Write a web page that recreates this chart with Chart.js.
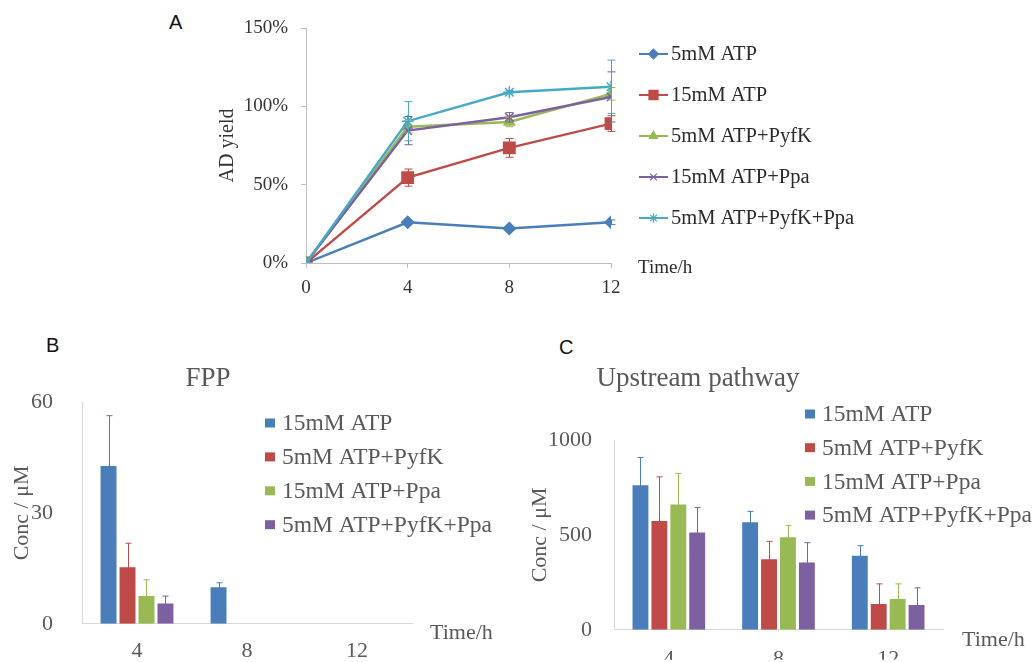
<!DOCTYPE html>
<html>
<head>
<meta charset="utf-8">
<script src="https://cdn.jsdelivr.net/npm/chart.js@4.4.0/dist/chart.umd.min.js"></script>
<style>
  html, body { margin: 0; padding: 0; background: #fff; }
  body { width: 1034px; height: 662px; position: relative; overflow: hidden; }
  .panel { position: absolute; }
  .panel canvas { display: block; }
  .tag { position: absolute; font-family: "Liberation Sans", Arial, sans-serif; font-size: 20px; color: #111; line-height: 23px; }
</style>
</head>
<body>
<div class="tag" style="left:169px;top:11px">A</div>
<div class="tag" style="left:46px;top:334px">B</div>
<div class="tag" style="left:559px;top:336px">C</div>

<div class="panel" style="left:160px;top:0px"><canvas id="chartA" width="740" height="300"></canvas></div>
<div class="panel" style="left:0px;top:330px"><canvas id="chartB" width="520" height="336"></canvas></div>
<div class="panel" style="left:520px;top:330px"><canvas id="chartC" width="514" height="335"></canvas></div>

<script>
// ---- A: AD yield over time (%) ----
var hoursA = [0, 4, 8, 12];
var atp5 = [0, 26, 22, 26];
var atp15 = [0, 54.5, 73.5, 89];
var atp5Pyfk = [0, 87, 90, 108];
var atp15Ppa = [0, 84.5, 93, 106];
var atp5PyfkPpa = [0, 90.5, 109, 112.5];
var atp5Err = [0, 1, 1, 1.5];
var atp15Err = [0, 5.5, 6, 5];
var atp5PyfkErr = [0, 4, 3, 4];
var atp15PpaErr = [0, 9, 3, 16];
var atp5PyfkPpaErr = [0, 12.5, 1, 17];

// ---- B / C: bar panels ----
var hoursBar = ['4', '8', '12'];
var barNames = ['15mM ATP', '5mM ATP+PyfK', '15mM ATP+Ppa', '5mM ATP+PyfK+Ppa'];

var fpp15 = [42.7, 9.9, 0];
var fpp5Pyfk = [15.3, 0, 0];
var fpp15Ppa = [7.5, 0, 0];
var fpp5PyfkPpa = [5.5, 0, 0];
var fpp15Err = [13.6, 1.2, 0];
var fpp5PyfkErr = [6.5, 0, 0];
var fpp15PpaErr = [4.4, 0, 0];
var fpp5PyfkPpaErr = [2, 0, 0];

var up15 = [762, 566, 390];
var up5Pyfk = [573, 372, 136];
var up15Ppa = [660, 488, 162];
var up5PyfkPpa = [512, 354, 131];
var up15Err = [146, 58, 53];
var up5PyfkErr = [233, 94, 106];
var up15PpaErr = [164, 62, 80];
var up5PyfkPpaErr = [132, 105, 90];

var serif = '"Liberation Serif", "Times New Roman", serif';
var BLUE = '#4a7ebb', RED = '#be4b48', GREEN = '#98b954', PURPLE = '#7d60a0', CYAN = '#46aac5';

// error bars (±) drawn from each dataset's `errors` array
var errorBars = {
  id: 'errorBars',
  afterDatasetsDraw: function (chart, args, opts) {
    var ctx = chart.ctx;
    var yScale = chart.scales.y;
    chart.data.datasets.forEach(function (ds, i) {
      if (!ds.errors) return;
      var meta = chart.getDatasetMeta(i);
      ctx.save();
      ctx.strokeStyle = ds.errorColor || ds.borderColor;
      ctx.lineWidth = 1;
      meta.data.forEach(function (el, j) {
        var v = ds.data[j];
        if (typeof v === 'object') v = v.y;
        var e = ds.errors[j];
        if (!e) return;
        var top = yScale.getPixelForValue(v + e);
        var bot = yScale.getPixelForValue(Math.max(v - e, 0));
        var x = Math.round(el.x) + 0.5;
        var cap = opts.cap || 3;
        ctx.beginPath();
        ctx.moveTo(x, top); ctx.lineTo(x, bot);
        ctx.moveTo(x - cap, top); ctx.lineTo(x + cap, top);
        ctx.moveTo(x - cap, bot); ctx.lineTo(x + cap, bot);
        ctx.stroke();
      });
      ctx.restore();
    });
  }
};

// legend drawn as a fixed list next to each plot
var panelLegend = {
  id: 'panelLegend',
  afterDraw: function (chart, args, o) {
    var ctx = chart.ctx;
    ctx.save();
    ctx.font = o.size + 'px ' + serif;
    ctx.textBaseline = 'middle';
    ctx.textAlign = 'left';
    chart.data.datasets.forEach(function (ds, i) {
      var y = o.y + i * o.step;
      if (o.kind === 'line') {
        ctx.strokeStyle = ds.borderColor;
        ctx.fillStyle = ds.borderColor;
        ctx.lineWidth = 2;
        ctx.beginPath();
        ctx.moveTo(o.x0, y); ctx.lineTo(o.x1, y);
        ctx.stroke();
        ctx.lineWidth = 1.2;
        Chart.helpers.drawPoint(ctx, {
          pointStyle: ds.pointStyle, radius: ds.pointRadius * 0.8,
          borderWidth: 1.2, rotation: 0
        }, (o.x0 + o.x1) / 2, y);
      } else {
        ctx.fillStyle = ds.backgroundColor;
        ctx.fillRect(o.boxX, y - 4.5, 10, 9);
      }
      ctx.fillStyle = o.color;
      ctx.fillText(ds.label, o.textX, y + 1);
    });
    ctx.restore();
  }
};

// free captions: panel titles and the "Time/h" axis note
var panelTexts = {
  id: 'panelTexts',
  afterDraw: function (chart, args, o) {
    var ctx = chart.ctx;
    ctx.save();
    o.items.forEach(function (t) {
      ctx.font = t.size + 'px ' + serif;
      ctx.fillStyle = t.color;
      ctx.textAlign = t.align || 'left';
      ctx.textBaseline = 'middle';
      ctx.fillText(t.text, t.x, t.y);
    });
    ctx.restore();
  }
};

function pts(ys) {
  return hoursA.map(function (h, i) { return { x: h, y: ys[i] }; });
}

function lineSet(label, ys, errs, color, style, r, order) {
  return {
    label: label,
    data: pts(ys),
    errors: errs,
    borderColor: color,
    backgroundColor: color,
    pointBackgroundColor: color,
    pointBorderColor: color,
    pointStyle: style,
    pointRadius: r,
    pointBorderWidth: 1.5,
    borderWidth: 2.4,
    tension: 0,
    order: order
  };
}

new Chart(document.getElementById('chartA').getContext('2d'), {
  type: 'line',
  data: {
    datasets: [
      lineSet('5mM ATP', atp5, atp5Err, BLUE, 'rectRot', 6, 4),
      lineSet('15mM ATP', atp15, atp15Err, RED, 'rect', 8, 3),
      lineSet('5mM ATP+PyfK', atp5Pyfk, atp5PyfkErr, GREEN, 'triangle', 6, 2),
      lineSet('15mM ATP+Ppa', atp15Ppa, atp15PpaErr, PURPLE, 'crossRot', 6, 1),
      lineSet('5mM ATP+PyfK+Ppa', atp5PyfkPpa, atp5PyfkPpaErr, CYAN, 'star', 6, 0)
    ]
  },
  options: {
    responsive: false,
    animation: false,
    layout: { padding: { left: 52, right: 289, top: 28, bottom: 0 } },
    scales: {
      x: {
        type: 'linear', min: 0, max: 12,
        ticks: { stepSize: 4, color: '#333', font: { family: serif, size: 19 }, padding: 9 },
        grid: { drawOnChartArea: false, drawTicks: true, tickLength: 5, color: '#bfbfbf' },
        border: { color: '#bfbfbf' },
        afterFit: function (s) { s.height = 37; }
      },
      y: {
        min: 0, max: 150,
        ticks: { stepSize: 50, color: '#333', font: { family: serif, size: 19 }, padding: 13,
                 callback: function (v) { return v + '%'; } },
        grid: { drawOnChartArea: false, drawTicks: true, tickLength: 5, color: '#bfbfbf' },
        border: { color: '#bfbfbf' },
        title: { display: true, text: 'AD yield', color: '#333', font: { family: serif, size: 20 } },
        afterFit: function (s) { s.width = 94; }
      }
    },
    plugins: {
      legend: { display: false },
      tooltip: { enabled: false },
      errorBars: { cap: 4 },
      panelLegend: { kind: 'line', x0: 479, x1: 508, textX: 511, y: 54, step: 41, size: 20.5, color: '#2a2a2a' },
      panelTexts: { items: [{ text: 'Time/h', x: 478, y: 268, size: 19, color: '#2a2a2a' }] }
    }
  },
  plugins: [errorBars, panelLegend, panelTexts]
});

function barSets(series, errs) {
  var colors = [BLUE, RED, GREEN, PURPLE];
  return series.map(function (vals, i) {
    return {
      label: barNames[i],
      data: vals,
      errors: errs[i],
      backgroundColor: colors[i],
      borderColor: colors[i],
      errorColor: colors[i],
      borderWidth: 0,
      categoryPercentage: 0.69,
      barPercentage: 0.84
    };
  });
}

function barOptions(cfg) {
  return {
    responsive: false,
    animation: false,
    layout: { padding: cfg.pad },
    scales: {
      x: {
        ticks: { color: '#595959', font: { family: serif, size: 22 }, padding: cfg.xPad },
        grid: { display: false, drawTicks: false },
        border: { color: '#d9d9d9' },
        afterFit: function (s) { s.height = cfg.xH; }
      },
      y: {
        min: 0, max: cfg.max,
        ticks: { stepSize: cfg.step, color: '#595959', font: { family: serif, size: 22 }, padding: cfg.yPad,
                 callback: function (v) { return String(v); } },
        grid: { display: false, drawTicks: false },
        border: { color: '#d9d9d9' },
        title: { display: true, text: 'Conc / \u03bcM', color: '#595959', font: { family: serif, size: 22 } },
        afterFit: function (s) { s.width = cfg.yW; }
      }
    },
    plugins: {
      legend: { display: false },
      tooltip: { enabled: false },
      errorBars: { cap: 3 },
      panelLegend: { kind: 'box', boxX: cfg.boxX, textX: cfg.textX, y: cfg.legY, step: cfg.legStep, size: 23.5, color: '#595959' },
      panelTexts: { items: cfg.texts }
    }
  };
}

new Chart(document.getElementById('chartB').getContext('2d'), {
  type: 'bar',
  data: {
    labels: hoursBar,
    datasets: barSets([fpp15, fpp5Pyfk, fpp15Ppa, fpp5PyfkPpa],
                      [fpp15Err, fpp5PyfkErr, fpp15PpaErr, fpp5PyfkPpaErr])
  },
  options: barOptions({
    pad: { left: 5, right: 108, top: 72, bottom: 0 },
    max: 60, step: 30, xPad: 14, xH: 35, yPad: 29, yW: 77,
    boxX: 265, textX: 282, legY: 93, legStep: 33.9,
    texts: [
      { text: 'FPP', x: 208, y: 49, size: 27, color: '#595959', align: 'center' },
      { text: 'Time/h', x: 430, y: 303, size: 22, color: '#595959' }
    ]
  }),
  plugins: [errorBars, panelLegend, panelTexts]
});

new Chart(document.getElementById('chartC').getContext('2d'), {
  type: 'bar',
  data: {
    labels: hoursBar,
    datasets: barSets([up15, up5Pyfk, up15Ppa, up5PyfkPpa],
                      [up15Err, up5PyfkErr, up15PpaErr, up5PyfkPpaErr])
  },
  options: barOptions({
    pad: { left: 3, right: 91, top: 110, bottom: 0 },
    max: 1000, step: 500, xPad: 16, xH: 30, yPad: 22, yW: 91,
    boxX: 285, textX: 302, legY: 84, legStep: 33.7,
    texts: [
      { text: 'Upstream pathway', x: 178, y: 49, size: 27, color: '#595959', align: 'center' },
      { text: 'Time/h', x: 442, y: 310, size: 22, color: '#595959' }
    ]
  }),
  plugins: [errorBars, panelLegend, panelTexts]
});
</script>
</body>
</html>
